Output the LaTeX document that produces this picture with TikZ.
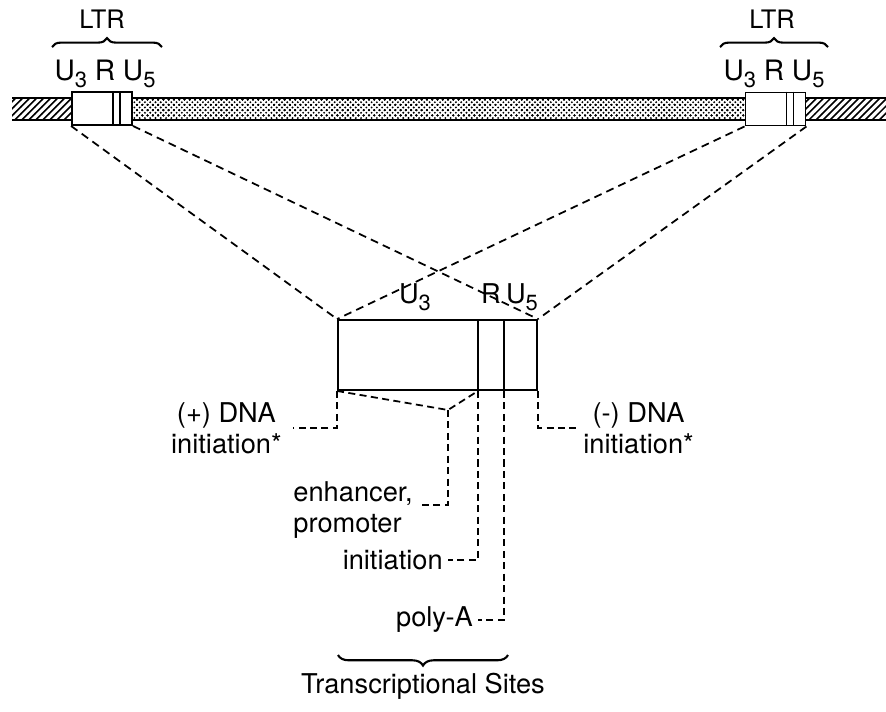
\documentclass[tikz,border=0pt]{standalone}
\usepackage{fontspec}
\setmainfont{TeX Gyre Heros}
\usetikzlibrary{patterns,decorations.pathreplacing}
\newcommand{\usub}[1]{U\raisebox{-0.28em}{\fontsize{12.5}{12.5}\selectfont #1}}
% bolder fills for the proviral band
\pgfdeclarepatternformonly{flankhatch}{\pgfqpoint{-1pt}{-1pt}}{\pgfqpoint{5pt}{5pt}}{\pgfqpoint{4pt}{4pt}}{%
    \pgfsetlinewidth{0.9pt}%
    \pgfpathmoveto{\pgfqpoint{-0.1pt}{-0.1pt}}%
    \pgfpathlineto{\pgfqpoint{4.1pt}{4.1pt}}%
    \pgfusepath{stroke}}
\pgfdeclarepatternformonly{genedots}{\pgfqpoint{-1pt}{-1pt}}{\pgfqpoint{4pt}{4pt}}{\pgfqpoint{3pt}{3pt}}{%
    \pgfpathcircle{\pgfqpoint{0pt}{0pt}}{0.6pt}%
    \pgfpathcircle{\pgfqpoint{1.5pt}{1.5pt}}{0.6pt}%
    \pgfpathcircle{\pgfqpoint{3pt}{3pt}}{0.6pt}%
    \pgfpathcircle{\pgfqpoint{0pt}{3pt}}{0.6pt}%
    \pgfpathcircle{\pgfqpoint{3pt}{0pt}}{0.6pt}%
    \pgfusepath{fill}}
\tikzset{
    ltrbox/.style={
        rectangle,
        draw,
        fill=white,
        line width=1.1pt,
        minimum width=1.2cm,
        minimum height=0.66cm,
        inner sep=0
    },
    midbox/.style={
        rectangle,
        draw,
        line width=1.1pt,
        minimum width=3.98cm,
        minimum height=1.4cm,
        inner sep=0
    },
    boxline/.style={line width=1pt},
    bandline/.style={line width=1.7pt},
    zoomline/.style={line width=1pt, dash pattern=on 4.5pt off 3pt},
    leader/.style={line width=1pt, dash pattern=on 4pt off 2.5pt},
    sitelabel/.style={inner xsep=0.1cm, inner ysep=0},
    bracebar/.style={line width=1.2pt, decorate, decoration={brace, amplitude=5pt}}
}
\begin{document}
\begin{tikzpicture}[x=0.02cm, y=-0.02cm,
    every node/.style={font=\fontsize{15.5}{17.5}\selectfont}]
    \useasboundingbox (0,0) rectangle (886,711);
    % proviral band
    \fill[pattern=flankhatch] (12,98) rectangle (72,120);
    \fill[pattern=genedots] (132,98) rectangle (745,120);
    \fill[pattern=flankhatch] (806,98) rectangle (886,120);
    \draw[bandline] (12,98) -- (886,98) (12,120) -- (886,120);

    % the two LTRs
    \node[ltrbox] (ltrL) at (102,108.5) {};
    \node[ltrbox] (ltrR) at (775.5,109) {};
    \foreach \b in {ltrL,ltrR}
        \foreach \s in {0.84cm,0.98cm}
            \draw[boxline] ([xshift=\s]\b.north west) -- ([xshift=\s]\b.south west);

    \node[anchor=base, font=\fontsize{14.5}{16}\selectfont] (ltrTxtL) at (102,28) {LTR};
    \node[anchor=base, font=\fontsize{14.5}{16}\selectfont] (ltrTxtR) at (772,28) {LTR};
    \draw[bracebar] (52,47) -- (162,47);
    \draw[bracebar] (720,47) -- (828,47);
    \node[anchor=base, font=\fontsize{16}{18}\selectfont] (ltrSubL) at (105,80) {\usub{3} R \usub{5}};
    \node[anchor=base, font=\fontsize{16}{18}\selectfont] (ltrSubR) at (774,80) {\usub{3} R \usub{5}};

    % enlarged LTR
    \node[midbox] (mid) at (437.5,355) {};
    \coordinate (rtop) at ([xshift=2.82cm]mid.north west);
    \coordinate (rbot) at ([xshift=2.82cm]mid.south west);
    \coordinate (utop) at ([xshift=3.34cm]mid.north west);
    \coordinate (ubot) at ([xshift=3.34cm]mid.south west);
    \draw[boxline] (rtop) -- (rbot) (utop) -- (ubot);

    \draw[zoomline] (ltrL.south west) -- (mid.north west);
    \draw[zoomline] (ltrL.south east) -- (mid.north east);
    \draw[zoomline] (ltrR.south west) -- (mid.north west);
    \draw[zoomline] (ltrR.south east) -- (mid.north east);

    \node[anchor=base] (midU3) at (415,303) {\usub{3}};
    \node[anchor=base] (midR) at (491,303) {R};
    \node[anchor=base] (midU5) at (522,303) {\usub{5}};

    % sites
    \node[sitelabel, anchor=east, align=center, inner xsep=0.22cm] (dnaPlus) at (293,428) {(+) DNA\\initiation*};
    \draw[leader] (mid.south west) |- (dnaPlus.east);
    \node[sitelabel, anchor=west, align=center] (dnaMinus) at (578,428) {(-) DNA\\initiation*};
    \draw[leader] (mid.south east) |- (dnaMinus.west);

    \coordinate (enhKnee) at (448,410);
    \draw[leader] (mid.south west) -- (enhKnee) -- (rbot);
    \node[sitelabel, anchor=east, align=left] (enh) at (418,510) {enhancer,\\promoter};
    \draw[leader] (enhKnee) |- ([yshift=0.1cm]enh.east);

    \node[sitelabel, anchor=east] (init) at (448,560) {initiation};
    \draw[leader] (rbot) |- (init.east);
    \node[sitelabel, anchor=east] (polyA) at (478,620) {poly-A};
    \draw[leader] (ubot) |- (polyA.east);

    \draw[bracebar, decoration={amplitude=6pt}] (508,655) -- (338,655);
    \node[anchor=base] (sites) at (423,693) {Transcriptional Sites};
\end{tikzpicture}
\end{document}
